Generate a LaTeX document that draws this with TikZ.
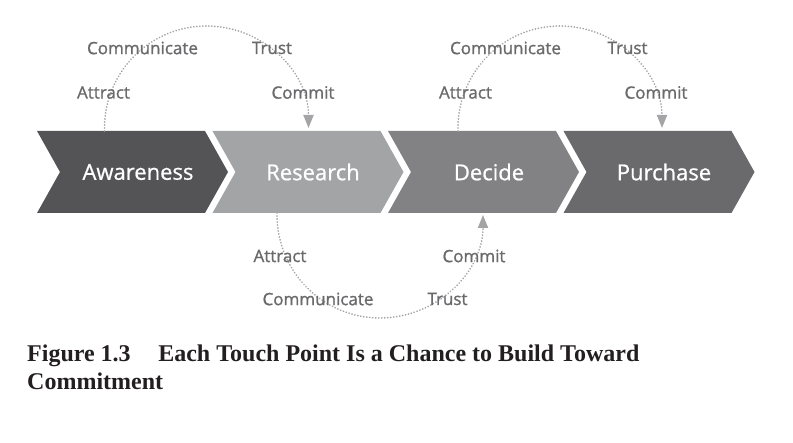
\documentclass[tikz,border=0pt]{standalone}
\usepackage{fontspec}
\setmainfont{Liberation Serif}
\newfontfamily\labfont[FakeBold=1.2]{Open Sans}
\newfontfamily\stagefont[FakeBold=0.8]{Open Sans}
\usetikzlibrary{arrows.meta}
\definecolor{cAw}{HTML}{545456}
\definecolor{cRe}{HTML}{A3A4A6}
\definecolor{cDe}{HTML}{828284}
\definecolor{cPu}{HTML}{6A6A6C}
\definecolor{lab}{HTML}{6A6A6C}
\definecolor{dotc}{HTML}{A4A4A6}
\definecolor{capc}{HTML}{231F20}
\tikzset{
  stagetext/.style={text=white,font=\stagefont\fontsize{22}{25}\selectfont,inner sep=0pt},
  touch/.style={text=lab,font=\labfont\fontsize{17}{20}\selectfont,inner sep=0pt},
  dotline/.style={dotc,line width=1.9pt,line cap=round,dash pattern=on 0.01pt off 3pt},
  tip/.style={-{Triangle[width=10pt,length=13pt,fill=dotc,color=dotc]}},
  capt/.style={text=capc,font=\bfseries\fontsize{24}{27}\selectfont,inner sep=0pt,anchor=base west}
}
\newcommand{\chev}[2]{%
  \fill[#2] (#1,312) -- ++(168,0) -- ++(23,-41) -- ++(-23,-41) -- ++(-168,0) -- ++(23,41) -- cycle;}
\begin{document}
\begin{tikzpicture}[x=1pt,y=1pt]
\useasboundingbox (0,0) rectangle (793,443);
% chevrons
\chev{37}{cAw}
\chev{212.5}{cRe}
\chev{388}{cDe}
\chev{563.5}{cPu}
\node[stagetext] (aw) at (138,271) {Awareness};
\node[stagetext] (re) at (313,271) {Research};
\node[stagetext] (de) at (489,271) {Decide};
\node[stagetext] (pu) at (664,271) {Purchase};
% anchor coordinates
\coordinate (awtop) at (104.5,312);
\coordinate (detop) at (458,312);
\coordinate (rebot) at (277,230);
% arcs
\draw[dotline,tip] (awtop) -- ++(0,3) arc[start angle=180,end angle=0,radius=102];
\draw[dotline,tip] (detop) -- ++(0,3) arc[start angle=180,end angle=0,radius=102];
\draw[dotline,tip] (rebot) -- ++(0,-2) arc[start angle=180,end angle=360,radius=103];
% labels top-left
\node[touch] (c1) at (142.5,395) {Communicate};
\node[touch] (t1) at (272,395) {Trust};
\node[touch] (a1) at (103.5,350.5) {Attract};
\node[touch] (m1) at (303,350.5) {Commit};
% labels top-right
\node[touch] (c2) at (505.5,395) {Communicate};
\node[touch] (t2) at (627.5,395) {Trust};
\node[touch] (a2) at (465.5,350.5) {Attract};
\node[touch] (m2) at (656,350.5) {Commit};
% labels bottom
\node[touch] (a3) at (280,187) {Attract};
\node[touch] (m3) at (474,187) {Commit};
\node[touch] (c3) at (318,144) {Communicate};
\node[touch] (t3) at (447.5,144) {Trust};
% caption
\node[capt] (cap1) at (27,81) {Figure 1.3\hspace{1.15em}Each Touch Point Is a Chance to Build Toward};
\node[capt] (cap2) at (27,53) {Commitment};
\end{tikzpicture}
\end{document}
